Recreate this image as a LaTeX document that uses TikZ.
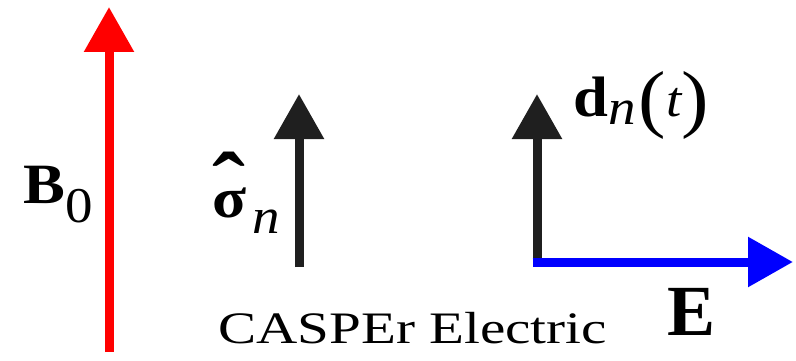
\documentclass[tikz,border=0pt]{standalone}
\usepackage{fontspec}
\setmainfont{Liberation Serif}
\newfontfamily\labelfont{Liberation Serif}[FakeStretch=1.1]
\newfontfamily\capfont{Liberation Serif}[FakeStretch=1.27]
\usetikzlibrary{arrows.meta}
\newcommand\fsz[1]{\fontsize{#1}{#1}\selectfont}

\begin{document}
\begin{tikzpicture}[x=1pt,y=-1pt,
  vec/.style={line width=9pt, -{Triangle[length=45pt,width=48pt]}},
  lbl/.style={anchor=base west, inner sep=0pt}]
\useasboundingbox (0,0) rectangle (796,361);

\coordinate (Bfoot) at (109,352);
\coordinate (Btip) at (109,7);
\coordinate (sfoot) at (299,267);
\coordinate (stip) at (299,94);
\coordinate (O) at (537,262);
\coordinate (dtip) at (537,94);
\coordinate (Etip) at (793,262);

% field and spin
\draw[vec, red] (Bfoot) -- (Btip);
\draw[vec, black!88] (sfoot) -- (stip);

% dipole and electric field
\draw[vec, black!88] ([yshift=-4.5pt]O) -- (dtip);
\draw[vec, blue] ([xshift=-4.5pt]O) -- (Etip);

\node[lbl] (Blab) at (23,203)
  {\labelfont\fsz{57}\textbf{B}\raisebox{-19pt}{\fsz{50}0}};
\node[lbl] (slab) at (212,217)
  {\labelfont\fsz{57}\bfseries\ooalign{\hfil\raisebox{2pt}{\fsz{90}ˆ}\hfil\cr σ\cr}\hspace{6pt}\raisebox{-16pt}{\fsz{50}\mdseries\itshape n}};
\node[lbl] (dlab) at (573,117)
  {\labelfont\fsz{57}\textbf{d}\raisebox{-8pt}{\fsz{50}\itshape n}\hspace{3pt}\raisebox{-7pt}{\fsz{75}(}{\fsz{50}\itshape t}\raisebox{-7pt}{\fsz{75})}};
\node[lbl] (Elab) at (667,335) {\fsz{72}\bfseries E};

\node[lbl] (title) at (218,343) {\capfont\fsz{45}CASPEr Electric};
\end{tikzpicture}
\end{document}
